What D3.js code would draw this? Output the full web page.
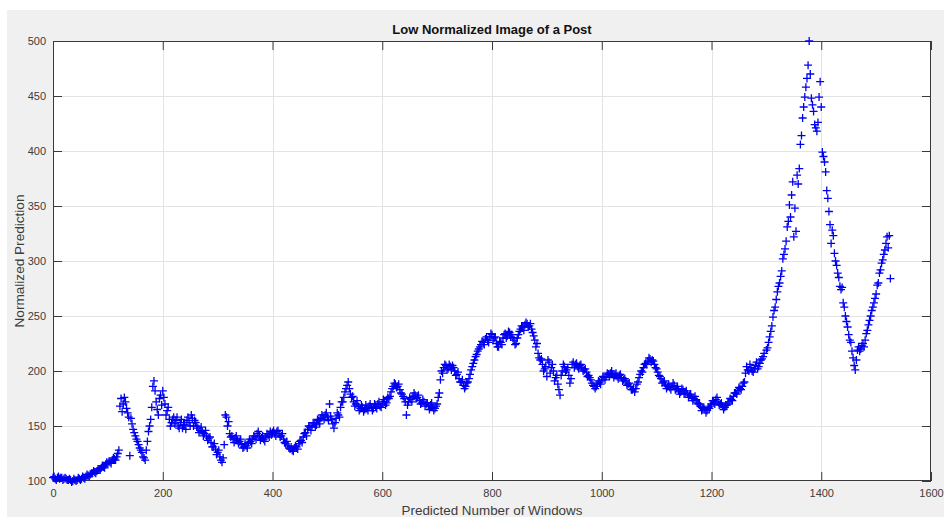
<!DOCTYPE html>
<html>
<head>
<meta charset="utf-8">
<script src="https://cdn.jsdelivr.net/npm/d3@7/dist/d3.min.js"></script>
<style>
  body { margin: 0; background: #ffffff; }
  svg { display: block; font-family: "Liberation Sans", Arial, Helvetica, sans-serif; }
</style>
</head>
<body>
<svg id="chart" width="944" height="517"></svg>
<script>
// Axis ticks
const xTicks = [0, 200, 400, 600, 800, 1000, 1200, 1400, 1600];
const yTicks = [100, 150, 200, 250, 300, 350, 400, 450, 500];

// Normalized prediction, windows 0..1296 every 4
const baseStart = 0;
const baseStep = 4;
const predictionBase = [
  103, 102, 103, 102, 103, 102, 102, 101, 101, 100, 101, 101, 102, 102, 103, 104, 105, 106, 107, 108, 109, 111, 112, 113, 115,
  116, 117, 119, 120, 122, 128, 175, 170, 172, 162, 123, 152, 144, 138, 133, 128, 122, 119, 136, 150, 167, 191, 172, 160, 178,
  182, 170, 164, 156, 153, 158, 155, 150, 153, 148, 151, 155, 153, 160, 150, 153, 148, 146, 145, 143, 141, 139, 135, 131, 129,
  126, 122, 117, 133, 158, 154, 140, 138, 139, 137, 136, 133, 131, 132, 135, 136, 138, 140, 143, 141, 139, 138, 140, 142, 145,
  144, 143, 145, 143, 141, 138, 134, 132, 129, 128, 130, 131, 134, 137, 140, 144, 147, 149, 150, 152, 151, 155, 157, 158, 160,
  158, 170, 156, 148, 157, 160, 167, 172, 181, 187, 184, 176, 172, 170, 168, 166, 167, 165, 166, 168, 167, 166, 168, 170, 168,
  170, 172, 171, 175, 181, 186, 188, 186, 183, 179, 175, 160, 172, 174, 177, 178, 176, 173, 171, 172, 170, 168, 169, 167, 166,
  170, 180, 200, 203, 205, 202, 204, 205, 200, 197, 193, 190, 187, 186, 190, 197, 204, 210, 215, 220, 224, 226, 229, 228, 231,
  233, 230, 225, 222, 226, 230, 234, 232, 235, 233, 228, 225, 233, 238, 240, 242, 243, 241, 238, 232, 222, 216, 210, 206, 202,
  195, 208, 203, 200, 194, 188, 178, 200, 204, 201, 196, 193, 208, 206, 204, 205, 203, 201, 199, 196, 192, 187, 184, 188, 190,
  192, 194, 195, 197, 198, 197, 196, 195, 196, 194, 192, 191, 188, 186, 183, 181, 188, 194, 200, 203, 207, 209, 211, 210, 206,
  202, 196, 193, 190, 187, 186, 185, 186, 187, 184, 182, 181, 183, 180, 179, 178, 176, 175, 174, 170, 168, 166, 165, 164, 166,
  170, 172, 174, 172, 170, 168, 167, 169, 172, 174, 177, 180, 182, 184, 186, 190, 204, 200, 203, 199, 205, 202, 207, 211, 216
];

// Normalized prediction, windows 2..1294 every 4
const midStart = 2;
const midStep = 4;
const predictionMid = [
  104, 101, 104, 103, 101, 103, 101, 102, 99, 102, 100, 103, 101, 104, 102, 106, 104, 107, 109, 107, 111, 110, 114, 112, 117,
  118, 116, 121, 119, 125, 168, 163, 176, 166, 158, 157, 147, 141, 136, 130, 126, 121, 128, 145, 156, 186, 182, 165, 175, 169,
  176, 160, 167, 150, 156, 152, 158, 148, 156, 151, 147, 158, 150, 157, 155, 150, 144, 149, 141, 146, 137, 140, 131, 134, 124,
  128, 119, 121, 160, 150, 143, 141, 135, 141, 134, 138, 130, 134, 130, 138, 134, 141, 138, 145, 137, 141, 136, 143, 140, 142,
  146, 141, 146, 140, 143, 135, 136, 130, 131, 127, 132, 129, 136, 135, 143, 141, 150, 146, 153, 149, 156, 152, 160, 156, 162,
  155, 159, 152, 153, 162, 158, 172, 176, 184, 190, 179, 177, 168, 173, 164, 169, 163, 169, 164, 170, 164, 170, 166, 172, 167,
  174, 169, 176, 177, 184, 189, 185, 188, 180, 177, 172, 169, 176, 172, 180, 175, 178, 170, 174, 168, 171, 165, 171, 164, 168,
  176, 192, 198, 206, 201, 206, 201, 203, 196, 199, 190, 192, 184, 189, 193, 201, 207, 213, 218, 222, 227, 224, 231, 226, 234,
  228, 231, 222, 227, 224, 233, 230, 236, 231, 230, 224, 230, 236, 241, 237, 244, 240, 243, 235, 228, 225, 212, 211, 200, 204,
  210, 198, 206, 191, 196, 183, 196, 206, 199, 203, 189, 206, 203, 207, 202, 206, 200, 202, 195, 194, 189, 186, 186, 191, 188,
  195, 192, 198, 195, 200, 194, 198, 193, 197, 191, 193, 187, 189, 183, 184, 184, 190, 197, 199, 206, 206, 212, 208, 209, 203,
  199, 195, 189, 191, 184, 188, 183, 189, 183, 186, 179, 184, 179, 182, 176, 179, 173, 177, 171, 170, 164, 167, 162, 167, 168,
  173, 170, 176, 169, 171, 165, 169, 170, 175, 173, 180, 179, 185, 183, 189, 198, 201, 206, 200, 202, 208, 204, 210, 213
];

// Normalized prediction, windows 1300..1526 every 2 (the volatile tail)
const peakStart = 1300;
const peakStep = 2;
const predictionPeak = [
  219, 221, 226, 231, 236, 241, 249, 255, 258, 265,
  272, 277, 280, 286, 291, 302, 306, 311, 318, 331,
  336, 351, 340, 360, 372, 322, 348, 327, 378, 370,
  384, 406, 414, 430, 440, 449, 458, 466, 478, 500,
  470, 448, 442, 436, 424, 421, 418, 426, 449, 463,
  440, 399, 395, 390, 381, 364, 357, 345, 333, 316,
  328, 323, 307, 300, 296, 289, 285, 277, 274, 276,
  262, 258, 250, 245, 240, 233, 228, 226, 218, 212,
  205, 201, 210, 219, 222, 218, 220, 223, 225, 222,
  228, 234, 237, 242, 246, 250, 255, 258, 262, 266,
  270, 278, 280, 289, 292, 298, 301, 306, 310, 316,
  322, 312, 323, 284
];

const points = predictionBase.map((v, i) => ({ w: baseStart + i * baseStep, v }))
  .concat(predictionMid.map((v, i) => ({ w: midStart + i * midStep, v })))
  .concat(predictionPeak.map((v, i) => ({ w: peakStart + i * peakStep, v })))
  .sort((a, b) => a.w - b.w);

const svg = d3.select("#chart");
const W = 944, H = 517;
const plot = { left: 53, right: 931, top: 41, bottom: 481 };

// Figure background
svg.append("rect").attr("x", 0).attr("y", 0).attr("width", W).attr("height", H).attr("fill", "#ffffff");
svg.append("rect").attr("x", 7).attr("y", 10).attr("width", W - 7).attr("height", H - 10).attr("fill", "#f0f0f0");

const x = d3.scaleLinear().domain([0, 1600]).range([plot.left, plot.right]);
const y = d3.scaleLinear().domain([100, 500]).range([plot.bottom, plot.top]);

// Axes background
svg.append("rect")
  .attr("x", plot.left).attr("y", plot.top)
  .attr("width", plot.right - plot.left).attr("height", plot.bottom - plot.top)
  .attr("fill", "#ffffff");

// Grid
const grid = svg.append("g").attr("stroke", "#e3e3e3").attr("stroke-width", 1);
grid.selectAll(".gx").data(xTicks.slice(1, -1)).join("line")
  .attr("x1", d => Math.round(x(d)) + 0.5).attr("x2", d => Math.round(x(d)) + 0.5)
  .attr("y1", plot.top).attr("y2", plot.bottom);
grid.selectAll(".gy").data(yTicks.slice(1, -1)).join("line")
  .attr("y1", d => Math.round(y(d)) + 0.5).attr("y2", d => Math.round(y(d)) + 0.5)
  .attr("x1", plot.left).attr("x2", plot.right);

const tickLen = 9;
const axisColor = "#3a3a3a";

function styleAxis(g) {
  g.select(".domain").remove();
  g.selectAll(".tick line").attr("stroke", axisColor);
  g.selectAll(".tick text").attr("fill", "#3c3c3c").attr("font-size", 11);
}

// Bottom / left axes with inward ticks
svg.append("g").attr("transform", `translate(0,${plot.bottom})`)
  .call(d3.axisBottom(x).tickValues(xTicks).tickFormat(d3.format("d")).tickSizeInner(-tickLen).tickSizeOuter(0).tickPadding(6))
  .call(styleAxis)
  .call(g => g.selectAll(".tick text").attr("dy", "0.9em"));
svg.append("g").attr("transform", `translate(${plot.left},0)`)
  .call(d3.axisLeft(y).tickValues(yTicks).tickFormat(d3.format("d")).tickSizeInner(-tickLen).tickSizeOuter(0).tickPadding(7))
  .call(styleAxis);

// Top / right tick marks (box)
svg.append("g").attr("transform", `translate(0,${plot.top})`)
  .call(d3.axisTop(x).tickValues(xTicks).tickFormat("").tickSizeInner(-tickLen).tickSizeOuter(0))
  .call(styleAxis);
svg.append("g").attr("transform", `translate(${plot.right},0)`)
  .call(d3.axisRight(y).tickValues(yTicks).tickFormat("").tickSizeInner(-tickLen).tickSizeOuter(0))
  .call(styleAxis);

// Axes box
svg.append("rect")
  .attr("x", plot.left + 0.5).attr("y", plot.top + 0.5)
  .attr("width", plot.right - plot.left - 1).attr("height", plot.bottom - plot.top - 1)
  .attr("fill", "none").attr("stroke", axisColor).attr("stroke-width", 1);

// Plus markers
const r = 4;
svg.append("g")
  .attr("fill", "none").attr("stroke", "#0000f0").attr("stroke-width", 1.3)
  .selectAll("path").data(points).join("path")
  .attr("d", d => {
    const px = x(d.w), py = y(d.v);
    return `M${px - r},${py}H${px + r}M${px},${py - r}V${py + r}`;
  });

// Title and axis labels
svg.append("text")
  .attr("x", (plot.left + plot.right) / 2).attr("y", 34)
  .attr("text-anchor", "middle").attr("font-size", 13).attr("font-weight", "bold")
  .attr("fill", "#111")
  .text("Low Normalized Image of a Post");

svg.append("text")
  .attr("x", (plot.left + plot.right) / 2).attr("y", 515)
  .attr("text-anchor", "middle").attr("font-size", 13.4)
  .attr("fill", "#3c3c3c")
  .text("Predicted Number of Windows");

svg.append("text")
  .attr("transform", `translate(24,${(plot.top + plot.bottom) / 2}) rotate(-90)`)
  .attr("text-anchor", "middle").attr("font-size", 13.6)
  .attr("fill", "#3c3c3c")
  .text("Normalized Prediction");
</script>
</body>
</html>
